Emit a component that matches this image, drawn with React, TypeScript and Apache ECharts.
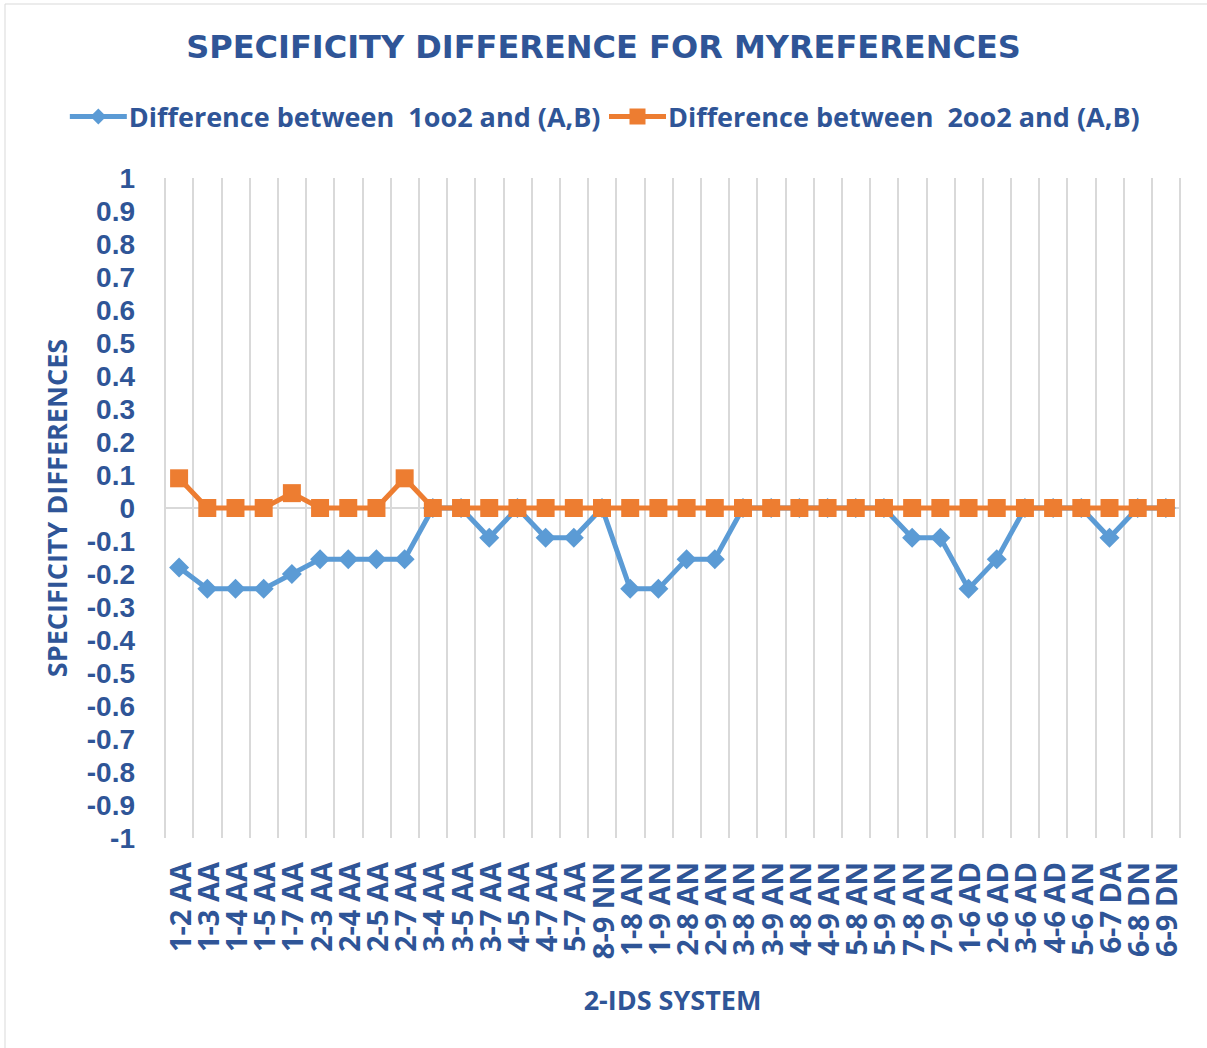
import React, { useEffect, useRef } from "react";
import * as echarts from "echarts";

const categories = [
  "1-2 AA", "1-3 AA", "1-4 AA", "1-5 AA", "1-7 AA", "2-3 AA", "2-4 AA", "2-5 AA", "2-7 AA",
  "3-4 AA", "3-5 AA", "3-7 AA", "4-5 AA", "4-7 AA", "5-7 AA", "8-9 NN", "1-8 AN", "1-9 AN",
  "2-8 AN", "2-9 AN", "3-8 AN", "3-9 AN", "4-8 AN", "4-9 AN", "5-8 AN", "5-9 AN", "7-8 AN",
  "7-9 AN", "1-6 AD", "2-6 AD", "3-6 AD", "4-6 AD", "5-6 AN", "6-7 DA", "6-8 DN", "6-9 DN",
];

const diff1oo2 = [
  -0.18, -0.245, -0.245, -0.245, -0.2, -0.155, -0.155, -0.155, -0.155,
  0, 0, -0.09, 0, -0.09, -0.09, 0, -0.245, -0.245,
  -0.155, -0.155, 0, 0, 0, 0, 0, 0, -0.09,
  -0.09, -0.245, -0.155, 0, 0, 0, -0.09, 0, 0,
];

const diff2oo2 = [
  0.09, 0, 0, 0, 0.045, 0, 0, 0, 0.09,
  0, 0, 0, 0, 0, 0, 0, 0, 0,
  0, 0, 0, 0, 0, 0, 0, 0, 0,
  0, 0, 0, 0, 0, 0, 0, 0, 0,
];

const seriesNames = [
  "Difference between  1oo2 and (A,B)",
  "Difference between  2oo2 and (A,B)",
];

const TEXT = "#2F5597";
const FONT = "'Open Sans', 'Noto Sans', sans-serif";

export default function App() {
  const ref = useRef<HTMLDivElement>(null);
  useEffect(() => {
    document.body.style.margin = "0";
    if (!ref.current) return;
    const chart = echarts.init(ref.current, undefined, { renderer: "svg" });
    const splitColors: string[] = [];
    for (let i = 0; i <= 20; i++) splitColors.push(i === 10 ? "#d9d9d9" : "rgba(0,0,0,0)");
    chart.setOption({
      animation: false,
      backgroundColor: "#ffffff",
      title: {
        text: "SPECIFICITY DIFFERENCE FOR MYREFERENCES",
        left: "center",
        top: 26,
        textStyle: {
          color: TEXT,
          fontFamily: "'DejaVu Sans', sans-serif",
          fontWeight: "bold",
          fontSize: 32,
        },
      },
      legend: {
        top: 98,
        left: "center",
        itemWidth: 57,
        itemHeight: 20,
        itemGap: 6,
        data: seriesNames,
        lineStyle: { width: 5 },
        textStyle: {
          color: TEXT,
          fontFamily: FONT,
          fontWeight: "bold",
          fontSize: 27,
          padding: [0, 0, 0, -3],
        },
      },
      graphic: [
        {
          type: "rect",
          shape: { x: 5, y: 4, width: 1230, height: 1070 },
          style: { fill: "none", stroke: "#d9d9d9", lineWidth: 1 },
          silent: true,
        },
      ],
      grid: { left: 165, right: 27, top: 178, bottom: 210 },
      xAxis: {
        type: "category",
        data: categories,
        boundaryGap: true,
        name: "2-IDS SYSTEM",
        nameLocation: "middle",
        nameGap: 148,
        nameTextStyle: {
          color: TEXT,
          fontFamily: FONT,
          fontWeight: "bold",
          fontSize: 27,
        },
        axisLine: { show: false },
        axisTick: { show: false },
        axisLabel: {
          interval: 0,
          rotate: 90,
          margin: 24,
          color: TEXT,
          fontFamily: FONT,
          fontWeight: "bold",
          fontSize: 29,
          lineHeight: 26,
        },
        splitLine: {
          show: true,
          interval: 0,
          lineStyle: { color: "#d9d9d9", width: 2 },
        },
      },
      yAxis: {
        type: "value",
        min: -1,
        max: 1,
        interval: 0.1,
        name: "SPECIFICITY DIFFERENCES",
        nameLocation: "middle",
        nameGap: 95,
        nameTextStyle: {
          color: TEXT,
          fontFamily: FONT,
          fontWeight: "bold",
          fontSize: 27,
        },
        axisLine: { show: false },
        axisTick: { show: false },
        axisLabel: {
          margin: 30,
          color: TEXT,
          fontFamily: "'Liberation Sans', Arial, sans-serif",
          fontWeight: "bold",
          fontSize: 28,
          lineHeight: 28,
          formatter: (v: number) => String(Number(v.toFixed(1))),
        },
        splitLine: {
          show: true,
          lineStyle: { color: splitColors, width: 2 },
        },
      },
      series: [
        {
          name: seriesNames[0],
          type: "line",
          data: diff1oo2,
          symbol: "diamond",
          symbolSize: 20,
          itemStyle: { color: "#5B9BD5" },
          lineStyle: { color: "#5B9BD5", width: 5 },
          z: 2,
        },
        {
          name: seriesNames[1],
          type: "line",
          data: diff2oo2,
          symbol: "rect",
          symbolSize: 18,
          itemStyle: { color: "#ED7D31" },
          lineStyle: { color: "#ED7D31", width: 5 },
          z: 3,
        },
      ],
    });
    return () => chart.dispose();
  }, []);
  return <div ref={ref} style={{ width: 1207, height: 1048 }} />;
}
